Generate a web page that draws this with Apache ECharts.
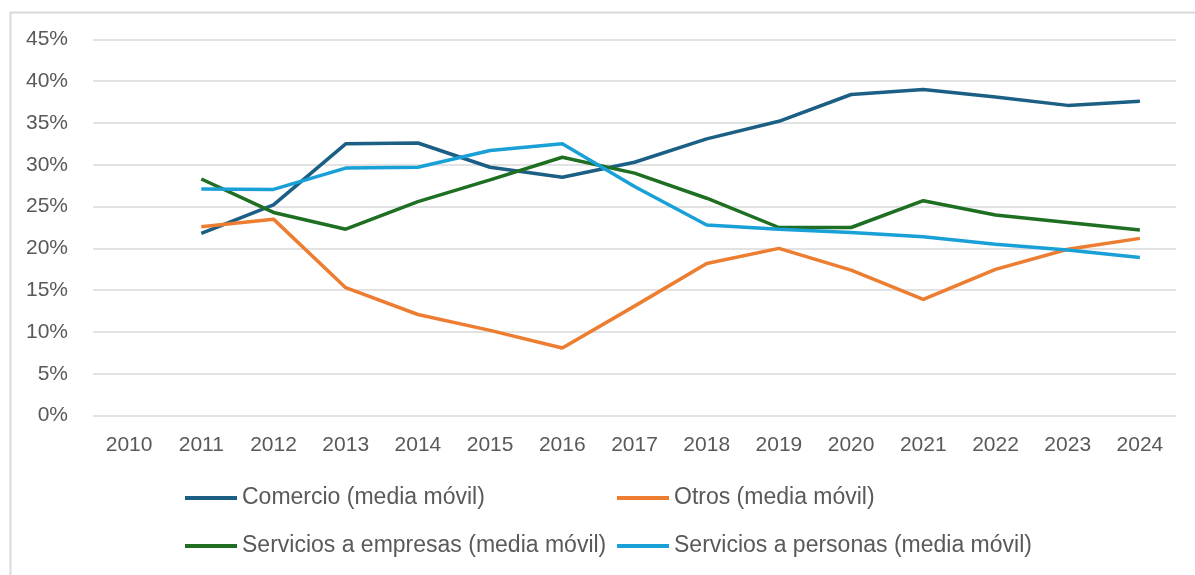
<!DOCTYPE html>
<html>
<head>
<meta charset="utf-8">
<script src="https://cdn.jsdelivr.net/npm/echarts@6/dist/echarts.min.js"></script>
<style>
html,body{margin:0;padding:0;background:#fff;}
#chart{width:1195px;height:575px;}
</style>
</head>
<body>
<div id="chart"></div>
<script>
const years = ['2010','2011','2012','2013','2014','2015','2016','2017','2018','2019','2020','2021','2022','2023','2024'];
const comercio = [null, 21.8, 25.2, 32.5, 32.6, 29.7, 28.5, 30.3, 33.1, 35.2, 38.4, 39.0, 38.1, 37.1, 37.6];
const otros = [null, 22.6, 23.5, 15.3, 12.1, 10.2, 8.1, 13.1, 18.2, 20.0, 17.4, 13.9, 17.5, 19.9, 21.2];
const empresas = [null, 28.3, 24.3, 22.3, 25.6, 28.2, 30.9, 29.0, 26.0, 22.5, 22.5, 25.7, 24.0, 23.1, 22.2];
const personas = [null, 27.1, 27.05, 29.6, 29.7, 31.7, 32.5, 27.4, 22.8, 22.3, 21.9, 21.4, 20.5, 19.8, 18.9];
const names = ['Comercio (media móvil)', 'Otros (media móvil)', 'Servicios a empresas (media móvil)', 'Servicios a personas (media móvil)'];
const colors = ['#1c5f85', '#ed7d31', '#1e6f22', '#18a0d7'];

const FONT = 'Liberation Sans';
const chart = echarts.init(document.getElementById('chart'), null, {renderer: 'canvas'});
const legendPos = [[185, 486], [617, 486], [185, 534], [617, 534]];
chart.setOption({
  animation: false,
  textStyle: {fontFamily: FONT},
  graphic: [{
    type: 'rect', left: 8, top: 10, silent: true,
    shape: {x: 0, y: 0, width: 1200, height: 600},
    style: {fill: 'none', stroke: '#d9d9d9', lineWidth: 2}
  }],
  grid: {left: 93, right: 19, top: 39.3, bottom: 159.3, containLabel: false},
  xAxis: {
    type: 'category', data: years, boundaryGap: true,
    axisLine: {show: false}, axisTick: {show: false},
    axisLabel: {color: '#595959', fontSize: 21, fontFamily: FONT, margin: 19}
  },
  yAxis: {
    type: 'value', min: 0, max: 45, interval: 5,
    axisLine: {show: false}, axisTick: {show: false},
    axisLabel: {color: '#595959', fontSize: 21, fontFamily: FONT, margin: 25, formatter: '{value}%'},
    splitLine: {lineStyle: {color: '#d9d9d9', width: 1.5}}
  },
  legend: names.map((n, i) => ({
    data: [n], left: legendPos[i][0], top: legendPos[i][1], padding: 0,
    icon: 'rect', itemWidth: 52, itemHeight: 4,
    textStyle: {color: '#595959', fontSize: 23, fontFamily: FONT, lineHeight: 24}
  })),
  series: [comercio, otros, empresas, personas].map((d, i) => ({
    name: names[i], type: 'line', data: d, symbol: 'none',
    lineStyle: {color: colors[i], width: 3.5}, itemStyle: {color: colors[i]},
    connectNulls: false
  }))
});
</script>
</body>
</html>
